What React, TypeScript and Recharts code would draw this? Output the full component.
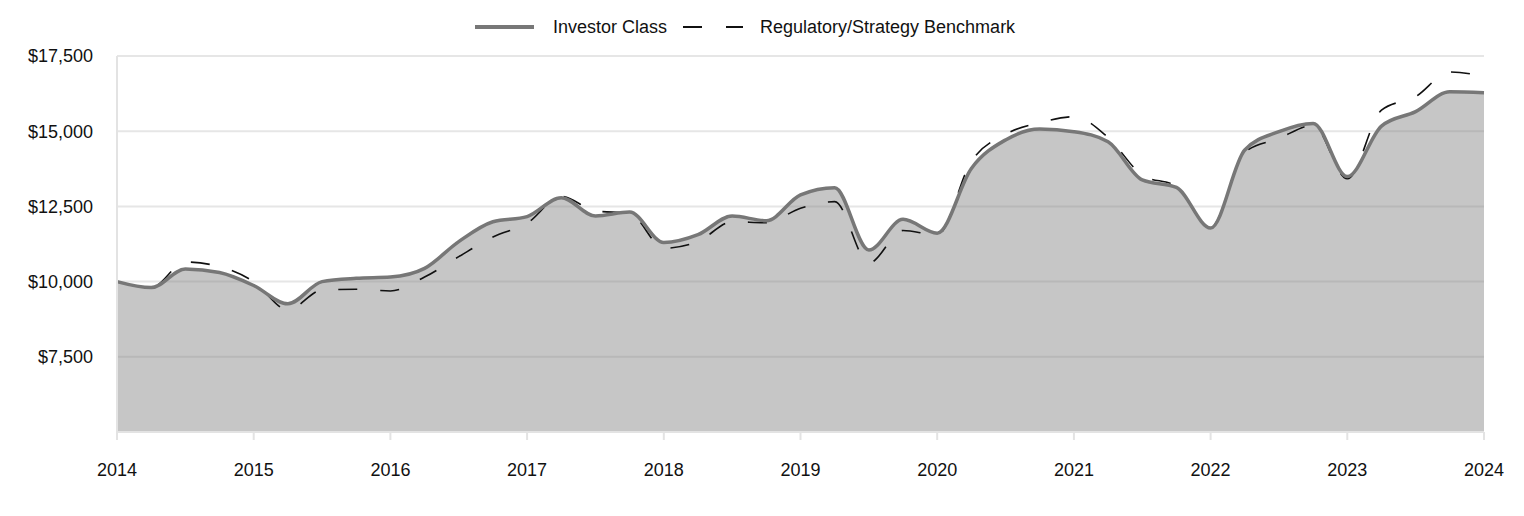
import React from "react";
import {
  ComposedChart,
  Area,
  Line,
  XAxis,
  YAxis,
  CartesianGrid,
  Legend,
} from "recharts";

const years: number[] = [2014, 2015, 2016, 2017, 2018, 2019, 2020, 2021, 2022, 2023, 2024];
const yTicks: number[] = [7500, 10000, 12500, 15000, 17500];

// Quarterly values, 2014 Q0 .. 2024 Q0
const investorClass: number[] = [
  10000, 9800, 10420, 10300, 9870, 9260, 10000, 10110, 10150, 10440,
  11330, 11990, 12160, 12790, 12180, 12310, 11300, 11560, 12180, 12025,
  12880, 13120, 11050, 12070, 11610, 13760, 14710, 15070, 14985, 14650,
  13380, 13130, 11780, 14375, 14985, 15260, 13490, 15170, 15650, 16310,
  16280,
];
const benchmark: number[] = [
  10000, 9800, 10650, 10500, 10000, 9060, 9720, 9745, 9690, 10150,
  10830, 11480, 11940, 12830, 12350, 12270, 11110, 11330, 11990, 11960,
  12440, 12660, 10620, 11700, 11550, 14000, 14900, 15280, 15480, 14790,
  13540, 13160, 11800, 14300, 14760, 15200, 13420, 15700, 16150, 16970,
  16820,
];

const data = investorClass.map((v, i) => ({
  x: 2014 + i / 4,
  investor: v,
  bench: benchmark[i],
}));

const FONT = "'Liberation Sans', Arial, sans-serif";

const fmt = (v: number) => "$" + v.toLocaleString("en-US");

const LegendContent = () => (
  <div style={{ position: "relative", width: 1524, height: 41, fontFamily: FONT, fontSize: 18, color: "#111" }}>
    <svg style={{ position: "absolute", left: 475, top: 0 }} width={60} height={24}>
      <line x1={0} y1={12} x2={59} y2={12} stroke="#777" strokeWidth={4} />
    </svg>
    <span style={{ position: "absolute", left: 553, top: 0, lineHeight: "24px", whiteSpace: "nowrap" }}>
      Investor Class
    </span>
    <svg style={{ position: "absolute", left: 683, top: 0 }} width={61} height={24}>
      <line x1={0} y1={12} x2={60} y2={12} stroke="#111" strokeWidth={2} strokeDasharray="19 24" />
    </svg>
    <span style={{ position: "absolute", left: 760, top: 0, lineHeight: "24px", whiteSpace: "nowrap" }}>
      Regulatory/Strategy Benchmark
    </span>
  </div>
);

export default function App() {
  return (
    <div style={{ position: "absolute", left: 0, top: 0, width: 1524, height: 516, background: "#fff" }}>
      <ComposedChart
        width={1524}
        height={516}
        data={data}
        margin={{ top: 15, right: 40, bottom: 24, left: 0 }}
      >
        <CartesianGrid horizontal={true} vertical={false} stroke="#e6e6e6" strokeWidth={2} />
        <XAxis
          dataKey="x"
          type="number"
          domain={[2014, 2024]}
          ticks={years}
          allowDecimals={false}
          height={60}
          tickSize={8}
          tickMargin={23}
          axisLine={{ stroke: "#e3e3e3", strokeWidth: 2 }}
          tickLine={{ stroke: "#e3e3e3", strokeWidth: 2 }}
          tick={{ fill: "#111", fontSize: 18, fontFamily: FONT }}
        />
        <YAxis
          type="number"
          domain={[5000, 17500]}
          ticks={yTicks}
          width={117}
          tickSize={6}
          tickMargin={18}
          tickLine={false}
          axisLine={{ stroke: "#e3e3e3", strokeWidth: 2 }}
          tick={{ fill: "#111", fontSize: 18, fontFamily: FONT }}
          tickFormatter={fmt}
        />
        <Legend
          verticalAlign="top"
          content={<LegendContent />}
          wrapperStyle={{ left: 0, top: 15, width: 1524 }}
        />
        <Area
          type="monotone"
          dataKey="investor"
          stroke="none"
          fill="#808080"
          fillOpacity={0.45}
          isAnimationActive={false}
          dot={false}
          activeDot={false}
        />
        <Line
          type="monotone"
          dataKey="bench"
          stroke="#111"
          strokeWidth={1.6}
          strokeDasharray="19 23"
          dot={false}
          activeDot={false}
          isAnimationActive={false}
        />
        <Line
          type="monotone"
          dataKey="investor"
          stroke="#777"
          strokeWidth={3.5}
          dot={false}
          activeDot={false}
          isAnimationActive={false}
        />
      </ComposedChart>
    </div>
  );
}
